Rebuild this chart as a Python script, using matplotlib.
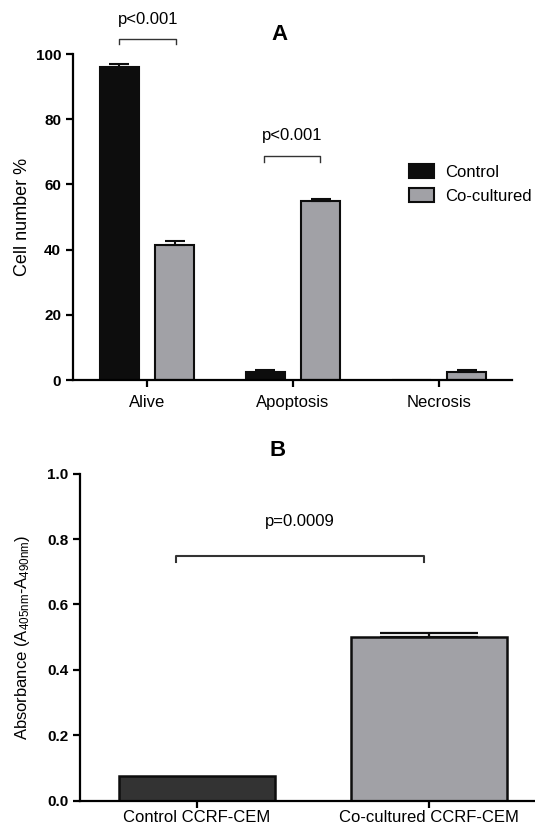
import numpy as np
import matplotlib
matplotlib.use("Agg")
import matplotlib.pyplot as plt
from matplotlib.patches import Patch

plt.rcParams["font.family"] = ["Liberation Sans", "DejaVu Sans"]
plt.rcParams["mathtext.default"] = "regular"

# Panel A data
categories_a = ["Alive", "Apoptosis", "Necrosis"]
control_a = [96.0, 2.5, 0.0]
control_a_err = [0.8, 0.5, 0.0]
cocult_a = [41.5, 55.0, 2.5]
cocult_a_err = [1.0, 0.5, 0.5]
yticks_a = [0, 20, 40, 60, 80, 100]

# Panel B data
categories_b = ["Control CCRF-CEM", "Co-cultured CCRF-CEM"]
values_b = [0.075, 0.50]
errors_b = [0.0, 0.012]
yticks_b = [0.0, 0.2, 0.4, 0.6, 0.8, 1.0]

black = "#0d0d0d"
grey = "#a1a1a6"
dark = "#333333"


def style_axes(ax, pad=6):
    for side in ["top", "right"]:
        ax.spines[side].set_visible(False)
    for side in ["left", "bottom"]:
        ax.spines[side].set_linewidth(1.6)
    ax.tick_params(axis="both", width=1.6, length=5, direction="out")
    ax.tick_params(axis="x", labelsize=12, pad=pad)
    for lab in ax.get_yticklabels():
        lab.set_fontweight("bold")
        lab.set_fontsize(11)


def bracket(ax, x0, x1, y, drop, text, text_y, lw=1.0):
    ax.plot([x0, x0, x1, x1], [y - drop, y, y, y - drop], color="#333333",
            lw=lw, clip_on=False)
    ax.text((x0 + x1) / 2, text_y, text, ha="center", va="center",
            fontsize=12, clip_on=False)


fig = plt.figure(figsize=(5.35, 8.27), dpi=100)

# ---- Panel A
ax1 = fig.add_axes([0.1364, 0.5405, 0.8206, 0.3942])
x = np.arange(len(categories_a))
off = 0.19
w = 0.265
ax1.bar(x - off, control_a, w, color=black, edgecolor=black, linewidth=1.5)
ax1.bar(x + off, cocult_a, w, color=grey, edgecolor=black, linewidth=1.5)
ax1.errorbar(x[:2] - off, control_a[:2], yerr=[[0, 0], control_a_err[:2]],
             fmt="none", ecolor=black, capsize=7, capthick=1.5, elinewidth=1.5)
ax1.errorbar(x + off, cocult_a, yerr=[[0, 0, 0], cocult_a_err],
             fmt="none", ecolor=black, capsize=7, capthick=1.5, elinewidth=1.5)
ax1.set_xlim(-0.507, 2.5)
ax1.set_ylim(0, 100)
ax1.set_xticks(x)
ax1.set_xticklabels(categories_a)
ax1.set_yticks(yticks_a)
style_axes(ax1)
ax1.set_ylabel("Cell number %", fontsize=13)
ax1.yaxis.set_label_coords(-0.095, 0.5)
bracket(ax1, -0.19, 0.2, 104.6, 1.6, "p<0.001", 110.5)
bracket(ax1, 0.8, 1.185, 68.7, 1.8, "p<0.001", 75.0)
ax1.text(0.47, 1.06, "A", transform=ax1.transAxes, ha="center", va="center",
         fontsize=16, fontweight="bold")
handles = [Patch(facecolor=black, edgecolor=black, linewidth=1.5, label="Control"),
           Patch(facecolor=grey, edgecolor=black, linewidth=1.5, label="Co-cultured")]
ax1.legend(handles=handles, loc="upper left", bbox_to_anchor=(0.765, 0.662),
           frameon=False, fontsize=12, handlelength=1.5, handleheight=0.9,
           handletextpad=0.7, labelspacing=0.5, borderpad=0, borderaxespad=0)

# ---- Panel B
ax2 = fig.add_axes([0.1495, 0.032, 0.8505, 0.3953])
xb = np.arange(len(categories_b))
colors_b = [dark, grey]
ax2.bar(xb, values_b, 0.67, color=colors_b, edgecolor=black, linewidth=1.8)
ax2.errorbar(xb[1:], values_b[1:], yerr=[[0], errors_b[1:]], fmt="none",
             ecolor=black, capsize=35, capthick=1.6, elinewidth=1.6)
ax2.set_xlim(-0.504, 1.457)
ax2.set_ylim(0, 1.0)
ax2.set_xticks(xb)
ax2.set_xticklabels(categories_b)
ax2.set_yticks(yticks_b)
ax2.set_yticklabels([f"{v:.1f}" for v in yticks_b])
style_axes(ax2, pad=1.5)
ax2.set_ylabel("Absorbance (A$_{405nm}$-A$_{490nm}$)", fontsize=12)
ax2.yaxis.set_label_coords(-0.105, 0.5)
bracket(ax2, -0.09, 0.98, 0.748, 0.018, "p=0.0009", 0.855, lw=1.5)
ax2.text(0.435, 1.07, "B", transform=ax2.transAxes, ha="center", va="center",
         fontsize=16, fontweight="bold")

fig.savefig("out.png", dpi=100)
